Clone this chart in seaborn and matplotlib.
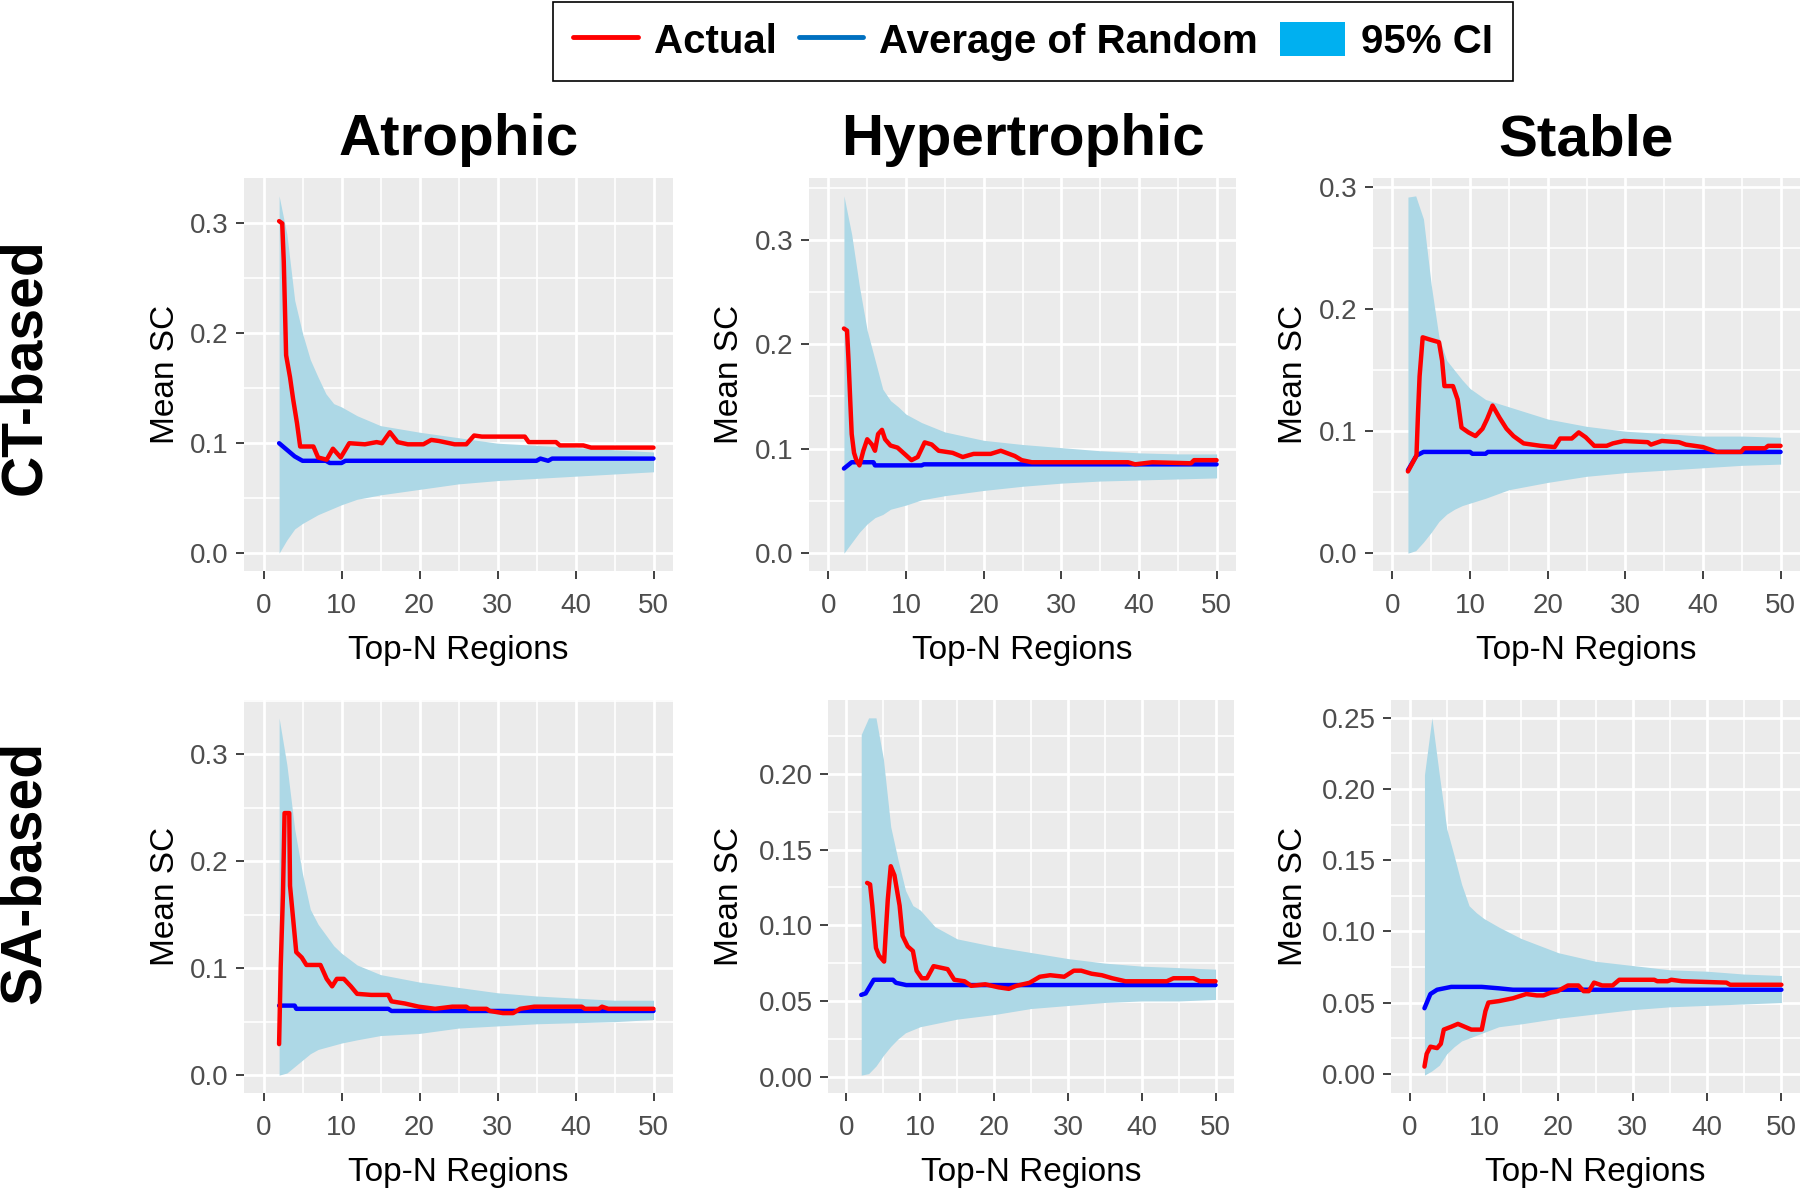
import matplotlib
matplotlib.use("Agg")
import matplotlib.pyplot as plt
import seaborn as sns
from matplotlib import font_manager
from matplotlib.lines import Line2D
from matplotlib.patches import Patch
from matplotlib.ticker import MultipleLocator, FormatStrFormatter

# ---- data ----
col_titles = ["Atrophic", "Hypertrophic", "Stable"]
row_titles = ["CT-based", "SA-based"]
legend_labels = ["Actual", "Average of Random", "95% CI"]

# N values at which the 95% CI band was read
ci_n = [2, 3, 4, 5, 6, 7, 8, 9, 10, 12, 15, 20, 25, 30, 35, 40, 45, 50]

# CT-based / Atrophic
atro_ct_lo = [0.0, 0.012, 0.022, 0.027, 0.031, 0.035, 0.038, 0.041, 0.044, 0.049, 0.053, 0.058, 0.063, 0.066, 0.068, 0.070, 0.072, 0.074]
atro_ct_hi = [0.325, 0.290, 0.230, 0.200, 0.176, 0.160, 0.145, 0.136, 0.133, 0.125, 0.116, 0.110, 0.105, 0.100, 0.098, 0.096, 0.094, 0.092]
atro_ct_rand_n = [2, 3, 4, 5, 8, 8.5, 10, 10.5, 35, 35.5, 36.5, 37, 50]
atro_ct_rand = [0.100, 0.094, 0.088, 0.084, 0.084, 0.082, 0.082, 0.084, 0.084, 0.086, 0.084, 0.086, 0.086]
atro_ct_act_n = [2, 2.4, 2.6, 2.9, 3.4, 3.8, 4.3, 4.7, 6.4, 7.0, 8.1, 8.9, 9.9, 11, 13, 14.5, 15.2, 16.2, 17.2,
                 18.5, 20.5, 21.5, 22.5, 24.5, 26, 27, 28, 33.5, 34, 37.5, 38, 41, 42, 50]
atro_ct_act = [0.302, 0.300, 0.265, 0.180, 0.160, 0.140, 0.118, 0.097, 0.097, 0.087, 0.085, 0.095, 0.087, 0.100, 0.099,
               0.101, 0.100, 0.110, 0.101, 0.099, 0.099, 0.103, 0.102, 0.099, 0.099, 0.107, 0.106, 0.106, 0.101,
               0.101, 0.098, 0.098, 0.096, 0.096]

# CT-based / Hypertrophic
hyper_ct_lo = [0.0, 0.010, 0.020, 0.028, 0.034, 0.037, 0.042, 0.044, 0.046, 0.051, 0.055, 0.060, 0.064, 0.067, 0.069, 0.070, 0.071, 0.072]
hyper_ct_hi = [0.342, 0.305, 0.255, 0.213, 0.185, 0.157, 0.146, 0.140, 0.133, 0.125, 0.116, 0.108, 0.104, 0.101, 0.098, 0.096, 0.095, 0.095]
hyper_ct_rand_n = [2, 3, 5.8, 6, 12, 12.3, 50]
hyper_ct_rand = [0.081, 0.087, 0.087, 0.084, 0.084, 0.085, 0.085]
hyper_ct_act_n = [2.0, 2.4, 2.6, 2.8, 3.0, 3.3, 3.6, 4.0, 4.5, 5.0, 5.6, 6.0, 6.4, 6.9, 7.3, 8.0, 8.9, 9.8, 10.7,
                  11.5, 12.4, 13.3, 14.2, 16.0, 17.3, 18.7, 20.9, 22.2, 24.0, 24.9, 26.2, 38.6, 39.5, 41.7, 46.7,
                  47.1, 50]
hyper_ct_act = [0.215, 0.213, 0.183, 0.148, 0.114, 0.096, 0.089, 0.084, 0.098, 0.109, 0.104, 0.098, 0.114, 0.118,
                0.109, 0.103, 0.101, 0.095, 0.089, 0.092, 0.106, 0.104, 0.098, 0.096, 0.092, 0.095, 0.095, 0.098,
                0.093, 0.089, 0.087, 0.087, 0.085, 0.087, 0.086, 0.089, 0.089]

# CT-based / Stable
stable_ct_lo = [0.0, 0.002, 0.009, 0.017, 0.026, 0.032, 0.036, 0.039, 0.041, 0.045, 0.052, 0.058, 0.063, 0.066, 0.068, 0.070, 0.072, 0.073]
stable_ct_hi = [0.292, 0.293, 0.274, 0.220, 0.177, 0.158, 0.150, 0.142, 0.135, 0.126, 0.120, 0.110, 0.104, 0.100, 0.098, 0.096, 0.096, 0.095]
stable_ct_rand_n = [2, 3.1, 4, 10, 10.3, 12, 12.3, 50]
stable_ct_rand = [0.068, 0.080, 0.083, 0.083, 0.0815, 0.0815, 0.083, 0.083]
stable_ct_act_n = [2.0, 3.1, 3.3, 3.5, 3.9, 4.9, 6.0, 6.4, 6.7, 7.8, 8.4, 8.9, 9.8, 10.7, 11.6, 12.2, 12.9, 13.8,
                   14.7, 15.6, 16.9, 19.1, 20.9, 21.6, 23.1, 24.0, 24.9, 26.0, 27.6, 28.4, 29.8, 32.9, 33.3, 34.7,
                   36.9, 37.8, 40.0, 41.8, 44.9, 45.3, 48.0, 48.4, 50]
stable_ct_act = [0.067, 0.080, 0.115, 0.145, 0.177, 0.175, 0.173, 0.158, 0.137, 0.137, 0.126, 0.103, 0.099, 0.096,
                 0.102, 0.110, 0.121, 0.111, 0.102, 0.096, 0.090, 0.088, 0.087, 0.094, 0.094, 0.099, 0.095, 0.088,
                 0.088, 0.090, 0.092, 0.091, 0.089, 0.092, 0.091, 0.089, 0.087, 0.083, 0.083, 0.086, 0.086, 0.088,
                 0.088]

# SA-based / Atrophic
atro_sa_lo = [0.0, 0.002, 0.008, 0.014, 0.020, 0.024, 0.026, 0.028, 0.030, 0.033, 0.037, 0.039, 0.044, 0.046, 0.048, 0.049, 0.050, 0.052]
atro_sa_hi = [0.334, 0.290, 0.230, 0.188, 0.155, 0.141, 0.131, 0.121, 0.114, 0.103, 0.094, 0.087, 0.082, 0.077, 0.074, 0.072, 0.070, 0.070]
atro_sa_rand_n = [2, 4, 4.2, 16, 16.4, 50]
atro_sa_rand = [0.065, 0.065, 0.062, 0.062, 0.060, 0.060]
atro_sa_act_n = [2.0, 2.2, 2.5, 2.7, 3.3, 3.4, 3.8, 4.2, 4.9, 5.5, 7.3, 8.1, 8.8, 9.4, 10.3, 11.2, 12.0, 13.8, 16.0,
                 16.4, 18.1, 19.9, 22.0, 24.2, 26.0, 26.4, 28.6, 29.0, 30.7, 32.0, 32.9, 34.7, 40.8, 41.2, 43.0,
                 43.4, 44.2, 50]
atro_sa_act = [0.029, 0.100, 0.170, 0.245, 0.245, 0.177, 0.146, 0.115, 0.110, 0.103, 0.103, 0.090, 0.083, 0.090,
               0.090, 0.083, 0.076, 0.075, 0.075, 0.069, 0.067, 0.064, 0.062, 0.064, 0.064, 0.062, 0.062, 0.060,
               0.058, 0.058, 0.062, 0.064, 0.064, 0.062, 0.062, 0.064, 0.062, 0.062]

# SA-based / Hypertrophic
hyper_sa_lo = [0.001, 0.002, 0.007, 0.014, 0.020, 0.025, 0.029, 0.031, 0.033, 0.035, 0.038, 0.041, 0.045, 0.047, 0.049, 0.050, 0.050, 0.051]
hyper_sa_hi = [0.226, 0.237, 0.237, 0.210, 0.165, 0.143, 0.123, 0.113, 0.110, 0.099, 0.091, 0.086, 0.082, 0.078, 0.075, 0.073, 0.072, 0.071]
hyper_sa_rand_n = [2, 2.6, 3.7, 6.3, 6.7, 8.1, 50]
hyper_sa_rand = [0.054, 0.055, 0.064, 0.064, 0.062, 0.0605, 0.0605]
hyper_sa_act_n = [2.8, 3.2, 3.5, 4.0, 4.4, 5.1, 5.3, 5.6, 6.0, 6.5, 7.2, 7.6, 8.3, 9.0, 9.5, 10.2, 10.9, 11.8, 13.7,
                  14.6, 16.0, 16.9, 18.8, 20.6, 22.0, 23.0, 24.8, 26.2, 27.6, 29.5, 30.8, 31.8, 33.2, 34.6, 36.0,
                  37.8, 43.4, 44.3, 47.0, 47.9, 50]
hyper_sa_act = [0.128, 0.127, 0.113, 0.085, 0.080, 0.076, 0.093, 0.117, 0.139, 0.133, 0.113, 0.093, 0.086, 0.083,
                0.070, 0.065, 0.065, 0.073, 0.071, 0.064, 0.063, 0.060, 0.061, 0.059, 0.058, 0.060, 0.062, 0.066,
                0.067, 0.066, 0.070, 0.070, 0.068, 0.067, 0.065, 0.063, 0.063, 0.065, 0.065, 0.063, 0.063]

# SA-based / Stable
stable_sa_lo = [-0.001, 0.002, 0.006, 0.014, 0.019, 0.023, 0.025, 0.027, 0.029, 0.033, 0.035, 0.039, 0.042, 0.045, 0.047, 0.048, 0.049, 0.050]
stable_sa_hi = [0.210, 0.250, 0.210, 0.172, 0.153, 0.133, 0.118, 0.113, 0.109, 0.103, 0.095, 0.085, 0.079, 0.076, 0.073, 0.072, 0.070, 0.069]
stable_sa_rand_n = [2, 2.8, 3.7, 5.6, 9.7, 12, 13.9, 50]
stable_sa_rand = [0.046, 0.056, 0.059, 0.061, 0.061, 0.060, 0.059, 0.059]
stable_sa_act_n = [2.0, 2.3, 2.8, 3.7, 4.2, 4.6, 5.6, 6.5, 7.4, 8.3, 9.7, 10.2, 10.6, 12.0, 13.9, 15.7, 17.1, 18.0,
                   19.0, 19.9, 21.3, 22.7, 23.4, 24.1, 24.8, 25.9, 27.3, 28.2, 32.9, 33.3, 34.7, 35.2, 36.6, 42.6,
                   43.1, 50]
stable_sa_act = [0.005, 0.014, 0.019, 0.018, 0.021, 0.031, 0.033, 0.035, 0.033, 0.031, 0.031, 0.044, 0.050, 0.051,
                 0.053, 0.056, 0.055, 0.055, 0.057, 0.058, 0.062, 0.062, 0.058, 0.058, 0.064, 0.062, 0.062, 0.066,
                 0.066, 0.065, 0.065, 0.066, 0.065, 0.064, 0.0625, 0.0625]

panels = [
    (atro_ct_lo, atro_ct_hi, atro_ct_rand_n, atro_ct_rand, atro_ct_act_n, atro_ct_act),
    (hyper_ct_lo, hyper_ct_hi, hyper_ct_rand_n, hyper_ct_rand, hyper_ct_act_n, hyper_ct_act),
    (stable_ct_lo, stable_ct_hi, stable_ct_rand_n, stable_ct_rand, stable_ct_act_n, stable_ct_act),
    (atro_sa_lo, atro_sa_hi, atro_sa_rand_n, atro_sa_rand, atro_sa_act_n, atro_sa_act),
    (hyper_sa_lo, hyper_sa_hi, hyper_sa_rand_n, hyper_sa_rand, hyper_sa_act_n, hyper_sa_act),
    (stable_sa_lo, stable_sa_hi, stable_sa_rand_n, stable_sa_rand, stable_sa_act_n, stable_sa_act),
]

# ---- layout (pixels in a 1800 x 1188 canvas) ----
W, H = 1800, 1188
# left, top, right, bottom of each panel
boxes = [
    (244, 178, 673, 571), (809, 178, 1236, 571), (1373, 178, 1800, 571),
    (244, 700, 673, 1093), (828, 700, 1234, 1093), (1391, 700, 1800, 1093),
]
ylabel_x = [165, 729, 1294]
xlabel_y = [650, 1172]
y_steps = [0.1, 0.1, 0.1, 0.1, 0.05, 0.05]

sns.set_theme(style="darkgrid", rc={
    "axes.facecolor": "#EBEBEB",
    "grid.color": "white",
    "axes.edgecolor": "none",
    "text.color": "black",
    "axes.labelcolor": "black",
})
names = {f.name for f in font_manager.fontManager.ttflist}
base_font = "Liberation Sans" if "Liberation Sans" in names else "DejaVu Sans"
narrow_font = "Liberation Sans Narrow" if "Liberation Sans Narrow" in names else base_font
plt.rcParams["font.family"] = [base_font, "DejaVu Sans"]

fig = plt.figure(figsize=(W / 100, H / 100), dpi=100)

for i, (lo, hi, rn, rv, an, av) in enumerate(panels):
    l, t, r, b = boxes[i]
    ax = fig.add_axes([l / W, 1 - b / H, (r - l) / W, (b - t) / H])
    ax.set_axisbelow(True)

    ax.fill_between(ci_n, lo, hi, color="#ADD8E6", lw=0, zorder=2)
    sns.lineplot(x=rn, y=rv, ax=ax, color="#0000FF", lw=3.2, estimator=None, sort=False, zorder=3)
    sns.lineplot(x=an, y=av, ax=ax, color="#FF0000", lw=3.2, estimator=None, sort=False, zorder=4)

    ymin, ymax = min(lo), max(hi)
    pad = 0.05 * (ymax - ymin)
    ax.set_ylim(ymin - pad, ymax + pad)
    ax.set_xlim(-2.5, 52.5)

    step = y_steps[i]
    ax.xaxis.set_major_locator(MultipleLocator(10))
    ax.xaxis.set_minor_locator(MultipleLocator(5))
    ax.yaxis.set_major_locator(MultipleLocator(step))
    ax.yaxis.set_minor_locator(MultipleLocator(step / 2))
    ax.yaxis.set_major_formatter(FormatStrFormatter("%.1f" if step >= 0.1 else "%.2f"))

    ax.grid(which="major", color="white", lw=2.0)
    ax.grid(which="minor", color="white", lw=1.2)
    for s in ax.spines.values():
        s.set_visible(False)

    ax.tick_params(which="major", length=6, width=1.3, color="#333333", labelcolor="#4D4D4D",
                   labelsize=20, bottom=True, left=True)
    ax.tick_params(axis="x", pad=10)
    ax.tick_params(axis="y", pad=5)
    ax.tick_params(which="minor", length=0)

    ax.set_xlabel("Top-N Regions", fontsize=24, color="black")
    ax.set_ylabel("Mean SC", fontsize=24, color="black")
    row, col = divmod(i, 3)
    ax.xaxis.set_label_coords(0.5, (b - xlabel_y[row]) / (b - t))
    ax.xaxis.label.set_va("center")
    ax.yaxis.set_label_coords((ylabel_x[col] - l) / (r - l), 0.5)
    ax.yaxis.label.set_va("center")

    if row == 0:
        fig.text((l + r) / 2 / W, 1 - 155 / H, col_titles[col], fontsize=42, fontweight="bold",
                 color="black", ha="center", va="baseline")

fig.text(25 / W, 1 - 367 / H, row_titles[0], fontsize=41, fontweight="bold", color="black",
         rotation=90, ha="center", va="center")
fig.text(25 / W, 1 - 872 / H, row_titles[1], fontsize=41, fontweight="bold", color="black",
         rotation=90, ha="center", va="center")

handles = [
    Line2D([0], [0], color="#FF0000", lw=3.5),
    Line2D([0], [0], color="#0070C0", lw=3.5),
    Patch(facecolor="#00B0F0", edgecolor="none"),
]
leg_size = 33 if narrow_font != base_font else 29
leg = fig.legend(handles, legend_labels, loc="center", bbox_to_anchor=(1033 / W, 1 - 41.5 / H),
                 ncol=3, frameon=True, fancybox=False, edgecolor="black", facecolor="white",
                 framealpha=1, prop={"family": narrow_font, "weight": "bold", "size": leg_size},
                 handlelength=1.6, handletextpad=0.4, columnspacing=0.55, borderpad=0.5,
                 handleheight=0.9)
leg.get_frame().set_linewidth(1.2)

fig.savefig("out.png", dpi=100, facecolor="white")
